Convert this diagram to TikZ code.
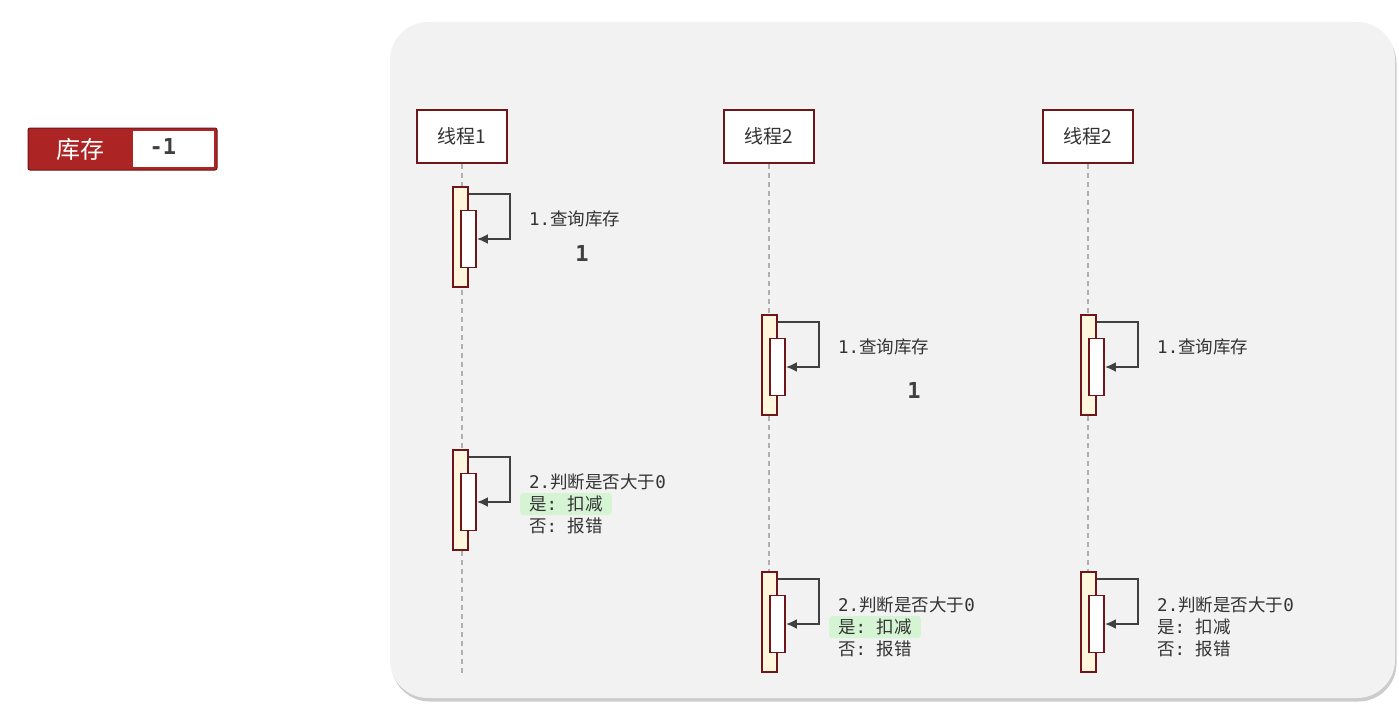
\documentclass[tikz,border=0pt]{standalone}
\usepackage{fontspec}
\setmainfont{Noto Sans CJK SC}
\newfontfamily\monof{DejaVu Sans Mono}
\usepackage{tikz}
\usetikzlibrary{arrows.meta,shapes,positioning,shadows}
\usepackage{xcolor}
\definecolor{thrred}{RGB}{110,22,26}
\definecolor{stockred}{RGB}{172,36,36}
\definecolor{panelgray}{RGB}{242,242,242}
\definecolor{lifegray}{RGB}{175,175,175}
\definecolor{actyellow}{RGB}{255,246,222}
\definecolor{arrgray}{RGB}{64,64,64}
\definecolor{txtgray}{RGB}{51,51,51}
\definecolor{hlgreen}{RGB}{212,244,212}
\tikzstyle{panel} = [rectangle, rounded corners=38pt, fill=panelgray, draw=none, drop shadow={shadow xshift=1.5pt, shadow yshift=-3.5pt, opacity=0.4}]
\tikzstyle{thread} = [rectangle, draw=thrred, fill=white, line width=2pt, minimum width=90pt, minimum height=53pt, text=txtgray, font=\fontsize{19}{21}\selectfont]
\tikzstyle{lifeline} = [dashed, dash pattern=on 5pt off 4pt, color=lifegray, line width=1.2pt]
\tikzstyle{actout} = [rectangle, draw=thrred, fill=actyellow, line width=1.8pt, minimum width=15pt, minimum height=100pt, inner sep=0pt]
\tikzstyle{actin} = [rectangle, draw=thrred, fill=white, line width=1.8pt, minimum width=15pt, minimum height=57pt, inner sep=0pt]
\tikzstyle{arrow} = [line width=2pt, -{Latex[length=11pt,width=10pt]}, color=arrgray]
\tikzstyle{msg} = [anchor=west, inner xsep=0pt, inner ysep=1pt, text=txtgray, font=\fontsize{17.5}{20}\selectfont]
\tikzstyle{msghl} = [msg, inner xsep=9pt, minimum height=22pt, fill=hlgreen, rounded corners=3pt]
\tikzstyle{val} = [text=arrgray, font=\monof\bfseries\fontsize{22}{24}\selectfont]

\begin{document}
\begin{tikzpicture}[x=1pt, y=-1pt]
\useasboundingbox (0,0) rectangle (1399,709);
\fill[white] (0,0) rectangle (1399,709);

% stock counter
\node[rectangle, fill=stockred, draw=thrred, line width=1pt, rounded corners=2pt, minimum width=189pt, minimum height=42pt] (stock) at (122.5,149) {};
\node[rectangle, fill=white, minimum width=81pt, minimum height=36pt, inner sep=0pt] (stockval) at (173,149) {};
\node[text=white, font=\fontsize{24}{26}\selectfont] (stockkey) at (80,149) {库存};
\node[val, anchor=west] (stocknum) at (146,146) {-1};

% panel
\node[panel, minimum width=1005pt, minimum height=676pt] (bg) at (892.5,360) {};

% threads and lifelines
\node[thread] (t1) at (462,136.5) {线程1};
\node[thread] (t2) at (769,136.5) {线程2};
\node[thread] (t3) at (1088,136.5) {线程2};
\coordinate (e1) at (462,675);
\coordinate (e2) at (769,675);
\coordinate (e3) at (1088,675);
\draw[lifeline] (t1) -- (e1);
\draw[lifeline] (t2) -- (e2);
\draw[lifeline] (t3) -- (e3);

% thread 1: query
\node[actout] (a1o) at (460.5,237) {};
\node[actin] (a1i) at (468.5,239) {};
\draw[arrow] ([yshift=-8pt]a1o.north east) -- ++(41,0) |- (a1i.east);
\node[msg] (m1) at (529,219) {{\monof 1.}查询库存};
\node[val] (v1) at (582,253) {1};

% thread 1: check
\node[actout] (b1o) at (460.5,500) {};
\node[actin] (b1i) at (468.5,502) {};
\draw[arrow] ([yshift=-8pt]b1o.north east) -- ++(41,0) |- (b1i.east);
\node[msg] (c1) at (529,482) {{\monof 2.}判断是否大于{\monof 0}};
\node[msghl] (y1) at (520,504) {是{\monof :~}扣减};
\node[msg] (n1) at (529,526) {否{\monof :~}报错};

% thread 2: query
\node[actout] (a2o) at (769.5,365) {};
\node[actin] (a2i) at (777.5,367) {};
\draw[arrow] ([yshift=-8pt]a2o.north east) -- ++(41,0) |- (a2i.east);
\node[msg] (m2) at (838,347) {{\monof 1.}查询库存};
\node[val] (v2) at (914,390) {1};

% thread 3: query
\node[actout] (a3o) at (1088.5,365) {};
\node[actin] (a3i) at (1096.5,367) {};
\draw[arrow] ([yshift=-8pt]a3o.north east) -- ++(41,0) |- (a3i.east);
\node[msg] (m3) at (1157,347) {{\monof 1.}查询库存};

% thread 2: check
\node[actout] (b2o) at (769.5,622) {};
\node[actin] (b2i) at (777.5,624) {};
\draw[arrow] ([yshift=-8pt]b2o.north east) -- ++(41,0) |- (b2i.east);
\node[msg] (c2) at (838,605) {{\monof 2.}判断是否大于{\monof 0}};
\node[msghl] (y2) at (829,627) {是{\monof :~}扣减};
\node[msg] (n2) at (838,649) {否{\monof :~}报错};

% thread 3: check
\node[actout] (b3o) at (1088.5,622) {};
\node[actin] (b3i) at (1096.5,624) {};
\draw[arrow] ([yshift=-8pt]b3o.north east) -- ++(41,0) |- (b3i.east);
\node[msg] (c3) at (1157,605) {{\monof 2.}判断是否大于{\monof 0}};
\node[msg] (y3) at (1157,627) {是{\monof :~}扣减};
\node[msg] (n3) at (1157,649) {否{\monof :~}报错};
\end{tikzpicture}
\end{document}
